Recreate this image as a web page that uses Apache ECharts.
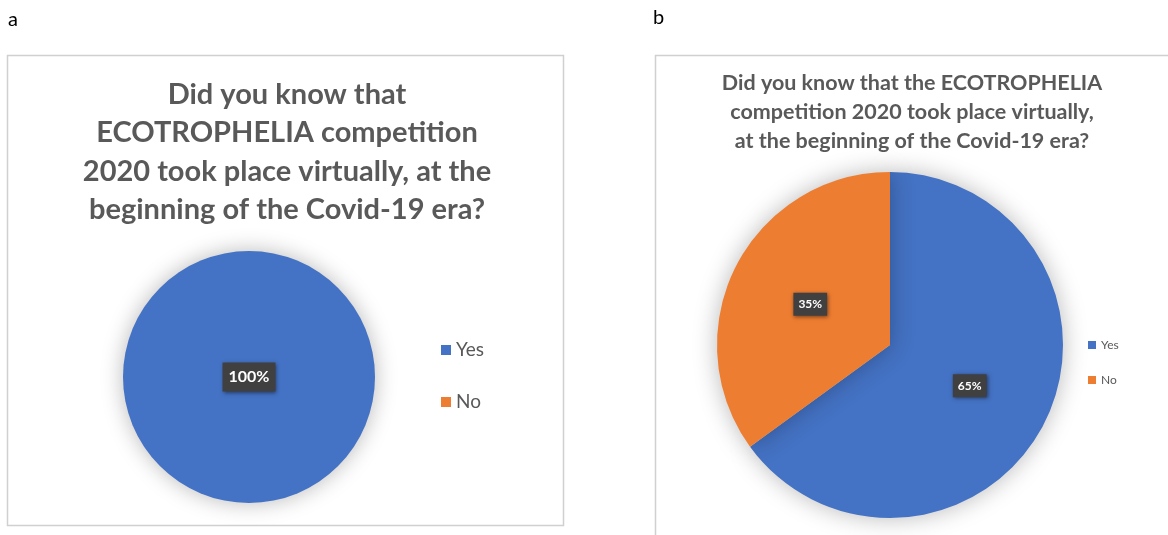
<!DOCTYPE html>
<html>
<head>
<meta charset="utf-8">
<style>
html,body{margin:0;padding:0;background:#fff;}
#chart{width:1168px;height:535px;}
</style>
<script src="https://cdn.jsdelivr.net/npm/echarts@6/dist/echarts.min.js"></script>
</head>
<body>
<div id="chart"></div>
<script>
const categories = ['Yes', 'No'];
const valuesA = [100, 0];
const valuesB = [65, 35];
const titleA = 'Did you know that\nECOTROPHELIA competition\n2020 took place virtually, at the\nbeginning of the Covid-19 era?';
const titleB = 'Did you know that the ECOTROPHELIA\ncompetition 2020 took place virtually,\nat the beginning of the Covid-19 era?';
const panelLabels = ['a', 'b'];

const colors = ['#4472C4', '#ED7D31'];
const FONT = 'Lato, "Open Sans", sans-serif';

const chart = echarts.init(document.getElementById('chart'), null, {renderer: 'canvas'});

function pieData(vals, hideZero) {
  return categories.map((c, i) => {
    const d = {name: c, value: vals[i], itemStyle: {color: colors[i]}};
    if (hideZero && vals[i] === 0) d.label = {show: false};
    return d;
  });
}

const labelBase = {
  color: '#fff',
  fontWeight: 'bold',
  fontFamily: FONT,
  backgroundColor: '#404040',
  shadowColor: 'rgba(0,0,0,0.5)',
  shadowBlur: 4,
  shadowOffsetX: 1,
  shadowOffsetY: 1,
  formatter: p => p.percent + '%'
};

chart.setOption({
  animation: false,
  color: colors,
  graphic: [
    {type: 'rect', shape: {x: 7.5, y: 55.5, width: 556, height: 470}, style: {fill: '#fff', stroke: '#d0d0d0', lineWidth: 1.5}, z: -10},
    {type: 'rect', shape: {x: 655.5, y: 55.5, width: 600, height: 600}, style: {fill: '#fff', stroke: '#d0d0d0', lineWidth: 1.5}, z: -10},
    {type: 'text', left: 8, top: 10, style: {text: panelLabels[0], font: '20px ' + FONT, fill: '#000'}},
    {type: 'text', left: 653, top: 8, style: {text: panelLabels[1], font: '20px ' + FONT, fill: '#000'}}
  ],
  title: [
    {text: titleA, left: 282, top: 70, textAlign: 'center',
     textStyle: {fontFamily: FONT, fontWeight: 'bold', fontSize: 29, lineHeight: 38.5, color: '#595959'}},
    {text: titleB, left: 907, top: 64, textAlign: 'center',
     textStyle: {fontFamily: FONT, fontWeight: 'bold', fontSize: 21.5, lineHeight: 29, color: '#595959'}}
  ],
  legend: [
    {data: categories, orient: 'vertical', left: 436, top: 334, itemWidth: 10, itemHeight: 10, itemGap: 30,
     icon: 'rect', textStyle: {fontFamily: FONT, fontSize: 19, lineHeight: 22, color: '#595959'}, selectedMode: false},
    {data: categories, orient: 'vertical', left: 1083, top: 333, itemWidth: 8, itemHeight: 8, itemGap: 21,
     icon: 'rect', textStyle: {fontFamily: FONT, fontSize: 12, lineHeight: 14, color: '#595959'}, selectedMode: false}
  ],
  series: [
    {type: 'pie', center: [249, 377], radius: [0, 126], startAngle: 90, clockwise: true,
     data: pieData(valuesA, true),
     itemStyle: {shadowBlur: 22, shadowColor: 'rgba(0,0,0,0.28)', borderWidth: 0},
     label: Object.assign({}, labelBase, {position: 'center', fontSize: 16, padding: [7, 6, 6, 6]}),
     labelLine: {show: false}, emphasis: {disabled: true}},
    {type: 'pie', center: [890, 345], radius: [0, 173], startAngle: 90, clockwise: true,
     data: pieData(valuesB, false),
     itemStyle: {shadowBlur: 24, shadowColor: 'rgba(0,0,0,0.28)', borderWidth: 0},
     label: Object.assign({}, labelBase, {position: 'inside', fontSize: 12, padding: [6, 5, 5, 5]}),
     labelLine: {show: false}, emphasis: {disabled: true}}
  ]
});
</script>
</body>
</html>
